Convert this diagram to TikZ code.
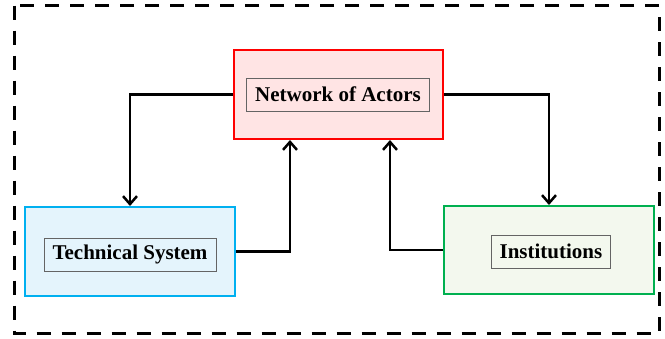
\documentclass[tikz,border=0pt]{standalone}
\usepackage{fontspec}
\setmainfont{Liberation Serif}
\usetikzlibrary{arrows.meta}

\definecolor{actorred}{RGB}{255,0,0}
\definecolor{actorfill}{RGB}{255,228,228}
\definecolor{techblue}{RGB}{0,176,240}
\definecolor{techfill}{RGB}{228,244,252}
\definecolor{instgreen}{RGB}{0,176,80}
\definecolor{instfill}{RGB}{243,248,238}
\definecolor{lblgray}{RGB}{100,100,100}

\begin{document}
\begin{tikzpicture}[x=1pt, y=-1pt,
		block/.style={minimum width=209pt, minimum height=89pt, line width=2pt},
		lbl/.style={draw=lblgray, line width=0.9pt, minimum height=33pt,
			inner xsep=8.5pt, font=\fontsize{21}{24}\selectfont\bfseries},
		conn/.style={line width=2.5pt, -{Straight Barb[length=8pt,width=14pt,line width=2.5pt]}}]
			\useasboundingbox (0,0) rectangle (665,338);

			% Outer frame
			\draw[line width=3pt, dash pattern=on 14pt off 11pt] (14,5.5) rectangle (659,333);

			% Blocks
			\node[block, draw=actorred, fill=actorfill] (actors) at (338.5,94.5) {};
			\node[block, draw=techblue, fill=techfill, minimum width=210pt] (techsys) at (130,251.5) {};
			\node[block, draw=instgreen, fill=instfill, minimum width=210pt, minimum height=88pt] (inst) at (549,250) {};

			% Labels
			\node[lbl] (actorslbl) at (338,94.5) {Network of Actors};
			\node[lbl] (techsyslbl) at (130,254.5) {Technical System};
			\node[lbl] (instlbl) at (551,251.5) {Institutions};

			% Connectors
			\draw[conn] (actors.west) -| (techsys.north);
			\draw[conn] (actors.east) -| (inst.north);
			\draw[conn] (techsys.east) -| ([xshift=-48.5pt]actors.south);
			\draw[conn] (inst.west) -| ([xshift=51.5pt]actors.south);
		\end{tikzpicture}
\end{document}
